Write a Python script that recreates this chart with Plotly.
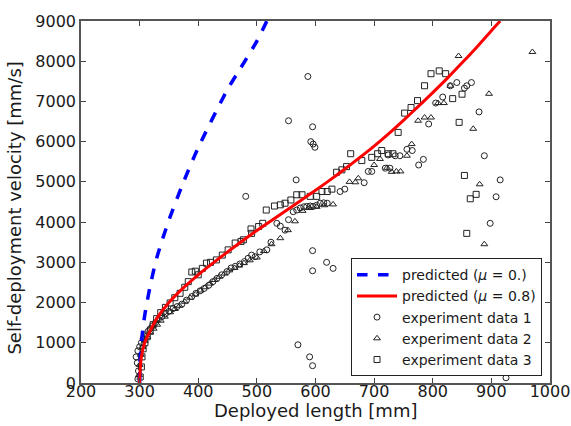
import plotly.graph_objects as go

# predicted curves
pred0_x = [300, 301, 303, 306, 310, 320, 330, 350, 375, 400, 450, 471, 500, 517]
pred0_v = [0, 600, 1000, 1400, 1800, 2550, 3150, 4050, 5000, 5850, 7300, 7800, 8500, 9000]

pred08_x = [300, 301, 303, 306, 310, 318, 330, 350, 375, 400, 425, 450, 475, 500, 525, 550, 575, 600,
            625, 650, 675, 700, 725, 750, 775, 800, 825, 850, 875, 900, 915]
pred08_v = [0, 350, 650, 870, 1050, 1300, 1620, 2000, 2370, 2690, 2980, 3260, 3530, 3790, 4040, 4290, 4540, 4790,
            5050, 5320, 5600, 5890, 6200, 6530, 6870, 7220, 7580, 7960, 8350, 8760, 9000]

# experiment data 1 (circles)
exp1_x = [297, 298, 296, 294, 297, 300, 303, 306, 310, 314, 318, 322, 327, 332, 338, 344, 350, 357, 364, 372,
          380, 389, 396, 403, 410, 418, 425, 432, 440, 449, 456, 463, 471, 479, 485, 491, 497, 505, 517, 524,
          534, 540, 548, 554, 562, 568, 574, 580, 585, 591, 596, 602, 608, 614, 620, 642, 650, 683, 690, 696,
          719, 727, 724, 736, 744, 756, 765, 776, 784, 793, 805, 817, 830, 841, 854, 858, 866, 879, 888, 898,
          908, 915, 925, 481, 554, 567, 587, 595, 592, 596, 599, 595, 619, 630, 595, 570, 590, 595]
exp1_v = [100, 300, 500, 650, 800, 900, 1000, 1100, 1200, 1280, 1350, 1420, 1500, 1580, 1650, 1720, 1780, 1850, 1900, 1960,
          2060, 2150, 2230, 2290, 2350, 2430, 2520, 2600, 2690, 2770, 2860, 2900, 2960, 3020, 3100, 3180, 3140, 3260, 3310, 3500,
          3970, 3900, 3800, 4060, 4260, 4300, 4350, 4380, 4390, 4400, 4390, 4420, 4470, 4480, 4470, 4760, 4820, 4980, 5260, 5260,
          5340, 5340, 5670, 5650, 5650, 5810, 5780, 5420, 5560, 6440, 6960, 7110, 7390, 7470, 7330, 7390, 7470, 6740, 5650, 3970,
          4630, 5050, 130, 4640, 6520, 5050, 7620, 6370, 6000, 5940, 5860, 3290, 3000, 2850, 2790, 950, 650, 430]

# experiment data 2 (triangles)
exp2_x = [299, 300, 302, 305, 309, 313, 318, 324, 330, 336, 343, 352, 360, 368, 377, 386, 395, 404, 412, 420,
          428, 436, 445, 453, 462, 470, 478, 488, 500, 512, 525, 540, 553, 565, 578, 590, 602, 615, 630, 658,
          668, 673, 700, 710, 722, 730, 738, 745, 756, 764, 775, 786, 797, 809, 819, 830, 844, 869, 880, 888,
          896, 970]
exp2_v = [200, 450, 700, 900, 1050, 1150, 1250, 1350, 1450, 1550, 1650, 1760, 1840, 1920, 2020, 2120, 2200, 2300, 2380, 2470,
          2560, 2640, 2720, 2800, 2860, 2920, 2980, 3050, 3120, 3280, 3450, 3600, 3800, 4020, 4280, 4350, 4380, 4420, 4440, 5000,
          4990, 5090, 5420, 5570, 5350, 5250, 5260, 5260, 5650, 5940, 6520, 6600, 6600, 6960, 6960, 7390, 8130, 6320, 4940, 3450,
          7190, 8230]

# experiment data 3 (squares)
exp3_x = [301, 303, 304, 306, 309, 313, 318, 323, 329, 336, 344, 352, 360, 369, 377, 383, 389, 395, 400, 407,
          414, 421, 431, 441, 451, 463, 473, 477, 490, 491, 503, 510, 516, 530, 540, 548, 558, 568, 577, 591,
          602, 611, 620, 628, 636, 645, 653, 660, 679, 696, 706, 713, 724, 732, 741, 752, 763, 774, 786, 797,
          811, 822, 834, 845, 850, 854, 858, 864, 874]
exp3_v = [150, 400, 650, 850, 1000, 1150, 1300, 1450, 1600, 1750, 1880, 1990, 2120, 2230, 2380, 2520, 2760, 2780, 2690, 2850,
          2980, 3000, 3060, 3180, 3310, 3480, 3520, 3560, 3830, 3720, 3890, 3970, 4300, 4400, 4430, 4470, 4550, 4680, 4680, 4640,
          4640, 4760, 4760, 4820, 5240, 5300, 5380, 5700, 5530, 5610, 5700, 5780, 5700, 5700, 6230, 6710, 6850, 7020, 7390, 7690,
          7760, 7690, 7070, 6480, 7180, 5160, 3720, 4580, 4690]

x_ticks = [200, 300, 400, 500, 600, 700, 800, 900, 1000]
y_ticks = [0, 1000, 2000, 3000, 4000, 5000, 6000, 7000, 8000, 9000]

FONT = "DejaVu Sans"
TXT = "#1a1a1a"

fig = go.Figure()

mk = dict(color="#222", size=6, line=dict(color="#222", width=1))
fig.add_trace(go.Scatter(x=exp1_x, y=exp1_v, mode="markers", name="experiment data 1",
                         marker=dict(symbol="circle-open", **mk), legendrank=3))
fig.add_trace(go.Scatter(x=exp2_x, y=exp2_v, mode="markers", name="experiment data 2",
                         marker=dict(symbol="triangle-up-open", **mk), legendrank=4))
fig.add_trace(go.Scatter(x=exp3_x, y=exp3_v, mode="markers", name="experiment data 3",
                         marker=dict(symbol="square-open", **mk), legendrank=5))
fig.add_trace(go.Scatter(x=pred0_x, y=pred0_v, mode="lines", name="predicted (<i>μ</i> = 0.)",
                         line=dict(color="#0000ff", width=3.5, dash="dash", shape="spline", smoothing=0.8),
                         legendrank=1))
fig.add_trace(go.Scatter(x=pred08_x, y=pred08_v, mode="lines", name="predicted (<i>μ</i> = 0.8)",
                         line=dict(color="#ff0000", width=3, shape="spline", smoothing=0.8), legendrank=2))

axis_common = dict(showgrid=False, zeroline=False, ticks="inside", ticklen=5, tickcolor="#444",
                   showline=True, linecolor="#555", linewidth=1.5, mirror="ticks", automargin=False,
                   tickfont=dict(family=FONT, size=16, color=TXT))
fig.update_xaxes(range=[200, 1000], tickvals=x_ticks, ticktext=[str(t) for t in x_ticks],
                 ticklabelstandoff=-7, **axis_common)
fig.update_yaxes(range=[0, 9000], tickvals=y_ticks, ticktext=[str(t) for t in y_ticks], **axis_common)

fig.update_layout(
    width=571, height=426,
    margin=dict(l=81, r=21, t=21, b=43, autoexpand=False),
    paper_bgcolor="white", plot_bgcolor="white",
    showlegend=True,
    legend=dict(x=0.983, xanchor="right", y=0.019, yanchor="bottom",
                bgcolor="white", bordercolor="#222", borderwidth=1, itemwidth=40,
                font=dict(family=FONT, size=14, color=TXT), tracegroupgap=0),
    annotations=[
        dict(text="Deployed length [mm]", xref="paper", yref="paper", x=0.5, y=-0.076,
             xanchor="center", yanchor="middle", showarrow=False,
             font=dict(family=FONT, size=18, color=TXT)),
        dict(text="Self-deployment velocity [mm/s]", xref="paper", yref="paper", x=-0.142, y=0.483,
             xanchor="center", yanchor="middle", showarrow=False, textangle=-90,
             font=dict(family=FONT, size=18, color=TXT)),
    ],
)

fig.write_html("out.html", config={"displayModeBar": False},
               post_script="document.body.style.margin='0';document.body.style.overflow='hidden';")
